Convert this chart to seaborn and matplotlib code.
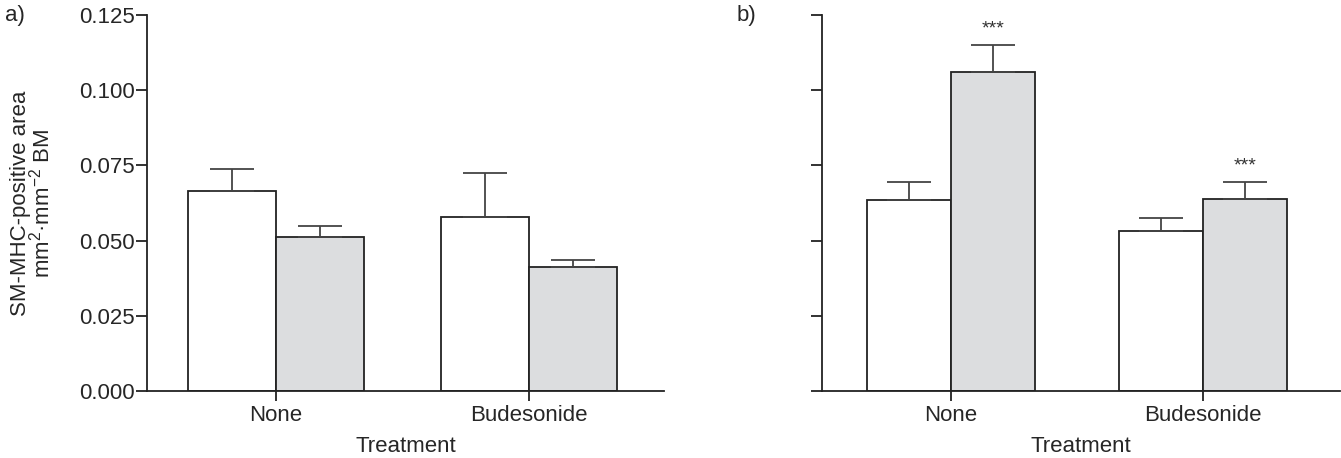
import pandas as pd
import matplotlib.pyplot as plt
import seaborn as sns

# data
treatments = ['None', 'Budesonide']
groups = ['Control', 'Stimulated']

a_means = {'Control': [0.0666, 0.0580], 'Stimulated': [0.0513, 0.0411]}
a_errs = {'Control': [0.0072, 0.0145], 'Stimulated': [0.0037, 0.0024]}

b_means = {'Control': [0.0634, 0.0532], 'Stimulated': [0.1062, 0.0639]}
b_errs = {'Control': [0.0060, 0.0043], 'Stimulated': [0.0087, 0.0056]}
b_stars = {'Stimulated': ['***', '***']}

yticks = [0.000, 0.025, 0.050, 0.075, 0.100, 0.125]


def to_frame(means, errs):
    rows = []
    for g in groups:
        for t, m, e in zip(treatments, means[g], errs[g]):
            rows.append({'Treatment': t, 'group': g, 'value': m, 'err': e})
    return pd.DataFrame(rows)


sns.set_style('ticks')
plt.rcParams['font.family'] = ['Liberation Sans', 'DejaVu Sans']
plt.rcParams['mathtext.fontset'] = 'custom'
plt.rcParams['mathtext.rm'] = 'Liberation Sans'

fs = 16
dark = '#222222'
fig = plt.figure(figsize=(13.41, 4.58), dpi=100)
ax_a = fig.add_axes([0.1096, 0.1463, 0.3855, 0.821])
ax_b = fig.add_axes([0.6130, 0.1463, 0.3862, 0.821])


def draw(ax, df, width, stars=None):
    sns.barplot(data=df, x='Treatment', y='value', hue='group',
                hue_order=groups, order=treatments,
                palette=['white', '#dcdddf'], edgecolor=dark, linewidth=1.3,
                width=width, errorbar=None, legend=False, ax=ax)
    for g, cont in zip(groups, ax.containers):
        sub = df[df['group'] == g].set_index('Treatment').loc[treatments]
        for i, bar in enumerate(cont):
            x = bar.get_x() + bar.get_width() / 2
            h = bar.get_height()
            ax.errorbar(x, h, yerr=[[0], [sub['err'].iloc[i]]], fmt='none',
                        ecolor='#444444', elinewidth=1.3,
                        capsize=15.8, capthick=1.3, zorder=1)
            if stars and g in stars:
                ax.text(x, h + sub['err'].iloc[i] + 0.0025, stars[g][i],
                        ha='center', va='bottom', fontsize=14, color='#333333')
    ax.set_ylim(0, 0.125)
    ax.set_yticks(yticks)
    ax.set_xlabel('Treatment', fontsize=fs, labelpad=7)
    sns.despine(ax=ax)
    for s in ['left', 'bottom']:
        ax.spines[s].set_color(dark)
        ax.spines[s].set_linewidth(1.3)
    ax.tick_params(axis='y', length=8, width=1.3, color=dark, labelsize=fs,
                   pad=1)
    ax.tick_params(axis='x', length=7, width=1.3, color=dark, labelsize=fs,
                   pad=3)


draw(ax_a, to_frame(a_means, a_errs), 0.696)
ax_a.set_xlim(-0.51, 1.534)
ax_a.set_yticklabels([f'{v:.3f}' for v in yticks])
ax_a.set_ylabel('SM-MHC-positive area\nmm$^{2}$·mm$^{-2}$ BM', fontsize=fs,
                linespacing=0.9)
ax_a.yaxis.set_label_coords(-0.178, 0.5)

draw(ax_b, to_frame(b_means, b_errs), 0.667, stars=b_stars)
ax_b.set_xlim(-0.512, 1.544)
ax_b.set_yticklabels([])
ax_b.set_ylabel('')

fig.text(5 / 1341, 1 - 15 / 458, 'a)', fontsize=fs, va='center', ha='left')
fig.text(737 / 1341, 1 - 15 / 458, 'b)', fontsize=fs, va='center', ha='left')

fig.savefig('out.png', dpi=100)
